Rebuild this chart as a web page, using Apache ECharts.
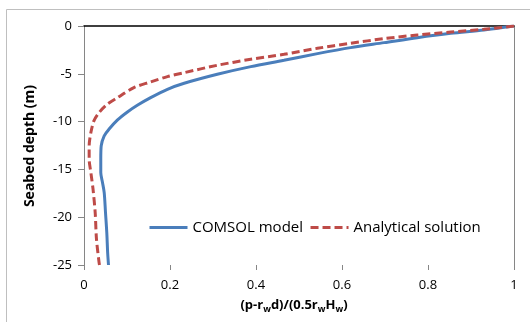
<!DOCTYPE html>
<html>
<head>
<meta charset="utf-8">
<script src="https://cdn.jsdelivr.net/npm/echarts@6/dist/echarts.min.js"></script>
<style>html,body{margin:0;padding:0;background:#fff}#c{width:530px;height:322px}</style>
</head>
<body>
<div id="c"></div>
<script>
// COMSOL model: normalized pressure vs seabed depth
var comsolX     = [1.000, 0.930, 0.853, 0.775, 0.698, 0.620, 0.543, 0.465, 0.388, 0.310, 0.233, 0.194, 0.155, 0.124, 0.101, 0.078, 0.058, 0.047, 0.040, 0.039, 0.039, 0.043, 0.047, 0.050, 0.053, 0.055, 0.057];
var comsolDepth = [0.0, -0.42, -0.77, -1.22, -1.74, -2.26, -2.89, -3.59, -4.25, -5.05, -5.99, -6.62, -7.49, -8.29, -8.99, -9.82, -10.80, -11.49, -12.54, -13.93, -15.33, -16.37, -17.42, -19.51, -21.60, -23.69, -25.00];
// Analytical solution
var analyticalX     = [1.000, 0.930, 0.853, 0.775, 0.698, 0.620, 0.543, 0.465, 0.388, 0.310, 0.233, 0.194, 0.155, 0.116, 0.078, 0.054, 0.035, 0.023, 0.016, 0.012, 0.012, 0.016, 0.021, 0.026, 0.029, 0.035, 0.036];
var analyticalDepth = [0.0, -0.35, -0.63, -0.94, -1.32, -1.81, -2.33, -2.96, -3.48, -4.11, -4.88, -5.29, -5.85, -6.44, -7.49, -8.19, -9.06, -9.93, -11.15, -12.54, -13.93, -15.33, -17.07, -19.51, -22.29, -24.73, -25.00];
var xTicks = [0, 0.2, 0.4, 0.6, 0.8, 1];
var yTicks = [0, -5, -10, -15, -20, -25];

function pairs(xs, ys){ return xs.map(function(x,i){ return [x, ys[i]]; }); }

var FONT = 'Open Sans';
var chart = echarts.init(document.getElementById('c'), null, {renderer:'canvas'});
chart.setOption({
  animation:false,
  textStyle:{fontFamily:FONT},
  grid:{left:84, right:16, top:26, bottom:57, containLabel:false},
  xAxis:[{
    type:'value', min:0, max:1, interval:0.2, position:'bottom',
    axisLine:{show:false, onZero:false},
    axisTick:{show:true, length:5, lineStyle:{color:'#868686'}},
    axisLabel:{margin:14, fontSize:13, color:'#000', fontFamily:FONT,
      formatter:function(v){ return xTicks.indexOf(+v.toFixed(1))>=0 ? String(+v.toFixed(1)) : ''; }},
    splitLine:{show:false}
  },{
    type:'value', min:0, max:1, position:'top',
    axisLine:{show:true, onZero:false, lineStyle:{color:'#000', width:1.5}},
    axisTick:{show:false}, axisLabel:{show:false}, splitLine:{show:false}
  }],
  yAxis:[{
    type:'value', min:-25, max:0, interval:5, position:'left',
    axisLine:{show:true, onZero:false, lineStyle:{color:'#868686'}},
    axisTick:{show:true, length:6, lineStyle:{color:'#868686'}},
    axisLabel:{margin:12, fontSize:13, color:'#000', fontFamily:FONT,
      formatter:function(v){ return yTicks.indexOf(v)>=0 ? String(v) : ''; }},
    splitLine:{show:false}
  },{
    type:'value', min:-25, max:0, position:'right',
    axisLine:{show:true, onZero:false, lineStyle:{color:'#868686'}},
    axisTick:{show:false}, axisLabel:{show:false}, splitLine:{show:false}
  }],
  legend:{
    left:148, top:220, itemWidth:38, itemHeight:18, itemGap:6, padding:0,
    itemStyle:{opacity:0},
    lineStyle:{width:3},
    textStyle:{fontSize:15, color:'#000', fontFamily:FONT},
    data:['COMSOL model','Analytical solution']
  },
  graphic:[
    {type:'rect', silent:true, shape:{x:6.5, y:9.5, width:600, height:400}, style:{fill:null, stroke:'#bfbfbf', lineWidth:1}, z:-1},
    {type:'text', x:30, y:146, rotation:Math.PI/2,
     style:{text:'Seabed depth (m)', font:'bold 14px "Open Sans"', fill:'#000', align:'center', verticalAlign:'middle'}},
    {type:'text', x:294, y:305, style:{
      text:'{n|(p-r}{s|w}{n|d)/(0.5r}{s|w}{n|H}{s|w}{n|)}',
      align:'center', verticalAlign:'middle',
      rich:{n:{font:'bold 13px "Open Sans"', fill:'#000', lineHeight:18, verticalAlign:'middle'},
            s:{font:'bold 9px "Open Sans"', fill:'#000', lineHeight:18, verticalAlign:'bottom', padding:[6,0,0,0]}}
    }}
  ],
  series:[{
    name:'COMSOL model', type:'line', xAxisIndex:0, yAxisIndex:0, symbol:'none',
    data:pairs(comsolX, comsolDepth), smooth:0.3,
    lineStyle:{color:'#4a7ebb', width:3}, itemStyle:{color:'#4a7ebb'}
  },{
    name:'Analytical solution', type:'line', xAxisIndex:0, yAxisIndex:0, symbol:'none',
    data:pairs(analyticalX, analyticalDepth), smooth:0.3,
    lineStyle:{color:'#be4b48', width:3, type:[8,4]}, itemStyle:{color:'#be4b48'}
  }]
});
</script>
</body>
</html>
